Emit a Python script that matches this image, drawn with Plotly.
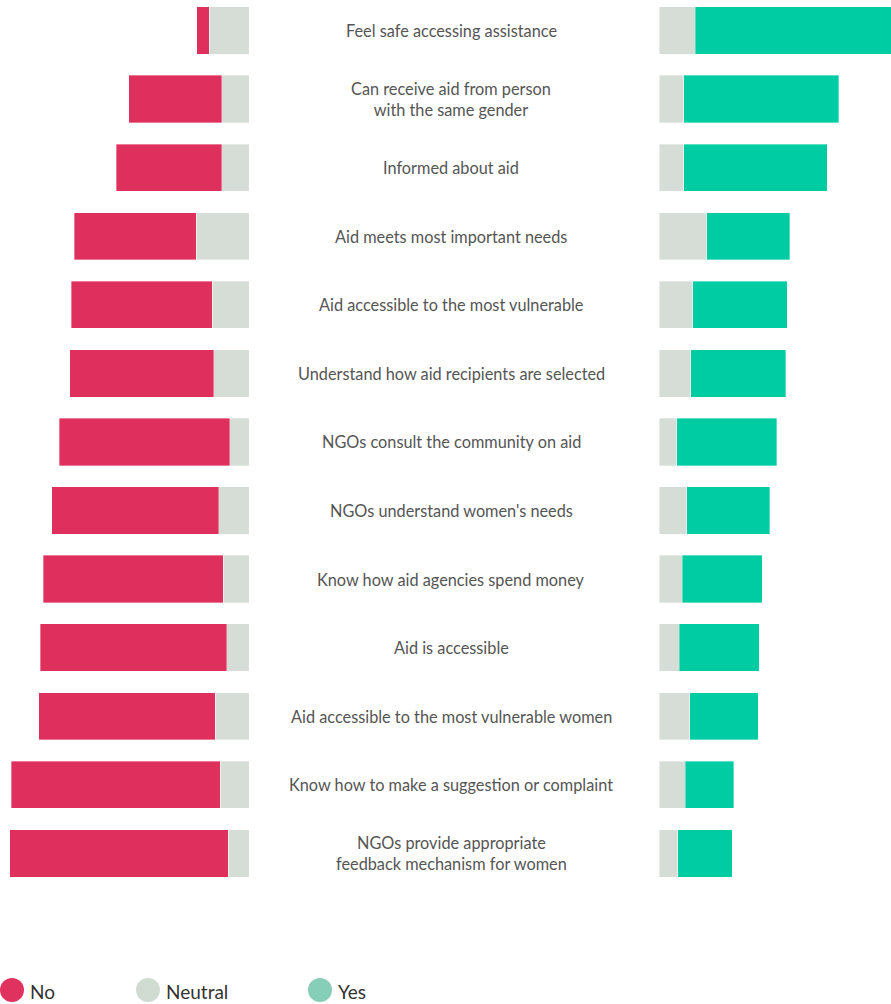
import plotly.graph_objects as go

questions = [
    "Feel safe accessing assistance",
    "Can receive aid from person<br>with the same gender",
    "Informed about aid",
    "Aid meets most important needs",
    "Aid accessible to the most vulnerable",
    "Understand how aid recipients are selected",
    "NGOs consult the community on aid",
    "NGOs understand women's needs",
    "Know how aid agencies spend money",
    "Aid is accessible",
    "Aid accessible to the most vulnerable women",
    "Know how to make a suggestion or complaint",
    "NGOs provide appropriate<br>feedback mechanism for women",
]
no_pct = [3.8, 28.9, 32.9, 38.0, 43.9, 45.0, 53.1, 52.0, 56.1, 58.2, 55.0, 65.0, 68.1]
neutral_pct = [25.0, 17.2, 17.2, 33.2, 23.2, 22.0, 12.1, 19.0, 16.1, 14.0, 21.2, 18.2, 13.0]
yes_pct = [71.2, 53.9, 49.9, 28.8, 32.9, 33.0, 34.8, 29.0, 27.8, 27.8, 23.8, 16.8, 18.9]

series_names = ["No", "Neutral", "Yes"]
bar_colors = {"No": "#DE2F5D", "Neutral": "#D6DDD6", "Yes": "#00CCA3"}
legend_colors = {"No": "#E0325F", "Neutral": "#D0DBD2", "Yes": "#86CEB8"}

W, H = 891, 1004
idx = list(range(len(questions)))
half_neutral = [n / 2 for n in neutral_pct]
edge = dict(color="rgba(255,255,255,0.6)", width=0.6)

fig = go.Figure()
# left side: neutral half next to centre, then No
fig.add_trace(go.Bar(y=idx, x=half_neutral, orientation="h", xaxis="x", yaxis="y",
                     marker=dict(color=bar_colors["Neutral"], line=edge), name="Neutral",
                     showlegend=False, hoverinfo="skip"))
fig.add_trace(go.Bar(y=idx, x=no_pct, orientation="h", xaxis="x", yaxis="y",
                     marker=dict(color=bar_colors["No"], line=edge), name="No",
                     showlegend=False))
# right side: neutral half, then Yes
fig.add_trace(go.Bar(y=idx, x=half_neutral, orientation="h", xaxis="x2", yaxis="y",
                     marker=dict(color=bar_colors["Neutral"], line=edge), name="Neutral",
                     showlegend=False))
fig.add_trace(go.Bar(y=idx, x=yes_pct, orientation="h", xaxis="x2", yaxis="y",
                     marker=dict(color=bar_colors["Yes"], line=edge), name="Yes",
                     showlegend=False))

annotations = []
for i, q in enumerate(questions):
    annotations.append(dict(x=451 / W, xref="paper", y=i, yref="y", text=q,
                            showarrow=False, xanchor="center", yanchor="middle",
                            font=dict(family="Lato", size=16.3, color="#555555"),
                            align="center"))

# legend drawn as circles + labels
legend_x = [0, 136, 308]
shapes = []
for name, lx in zip(series_names, legend_x):
    shapes.append(dict(type="circle", xref="paper", yref="paper",
                       x0=lx / W, x1=(lx + 24) / W,
                       y0=1 - 1002 / H, y1=1 - 978 / H,
                       fillcolor=legend_colors[name], line=dict(width=0)))
    annotations.append(dict(x=(lx + 28) / W, xref="paper", y=1 - 991 / H, yref="paper",
                            text=name, showarrow=False, xanchor="left", yanchor="middle",
                            font=dict(family="Lato", size=19, color="#333333")))

fig.update_layout(
    width=W, height=H,
    margin=dict(l=0, r=0, t=0, b=0),
    paper_bgcolor="white", plot_bgcolor="white",
    barmode="stack", bargap=0.31,
    showlegend=False,
    xaxis=dict(domain=[0, 249.3 / W], range=[249.3 / 3.21, 0], visible=False, fixedrange=True),
    xaxis2=dict(domain=[659.3 / W, 1], range=[0, (W - 659.3) / 2.87], visible=False,
                anchor="y", fixedrange=True),
    yaxis=dict(domain=[0, 1], range=[14.197, -0.445], visible=False, anchor="x", fixedrange=True),
    annotations=annotations,
    shapes=shapes,
)

fig.write_html("out.html", config={"displayModeBar": False},
               post_script="document.body.style.margin='0';document.body.style.overflow='hidden';")
